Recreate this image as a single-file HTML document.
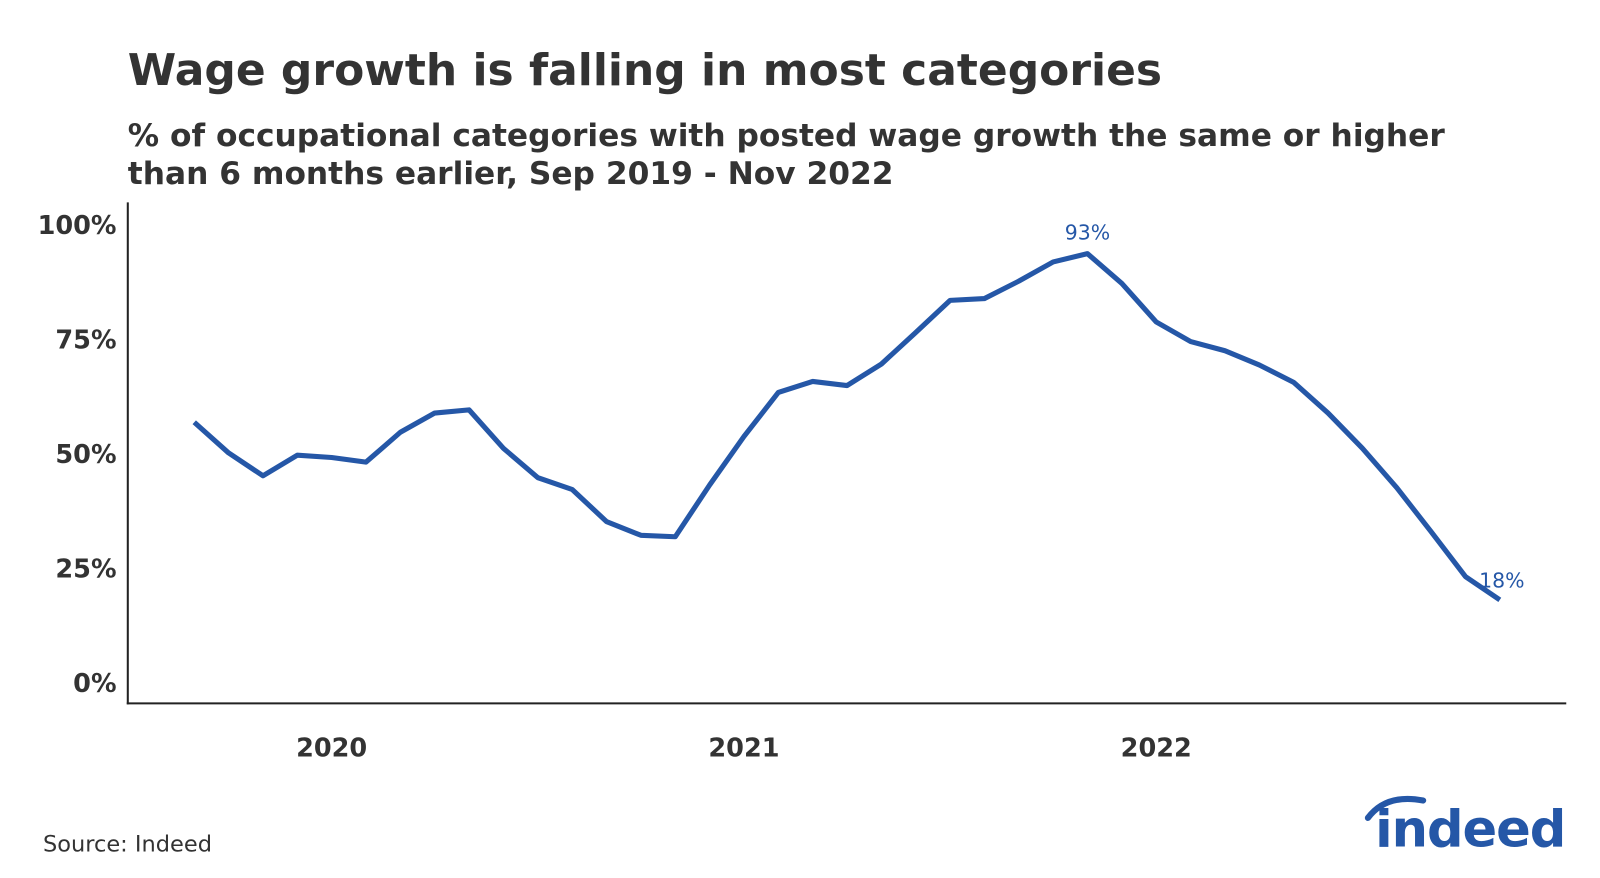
<!DOCTYPE html>
<html><head><meta charset="utf-8"><style>
body{margin:0;background:#fff;width:1600px;height:873px;overflow:hidden;font-family:"Liberation Sans","DejaVu Sans",sans-serif;}
svg text{font-family:"DejaVu Sans","Liberation Sans",sans-serif;}
</style></head><body>
<svg width="1600" height="873" viewBox="0 0 1565 853.9">
<text x="125" y="83" font-size="43" font-weight="bold" fill="#333">Wage growth is falling in most categories</text>
<text x="125" y="143" font-size="30.6" font-weight="bold" fill="#333">% of occupational categories with posted wage growth the same or higher</text>
<text x="125" y="180" font-size="30.6" font-weight="bold" fill="#333">than 6 months earlier, Sep 2019 - Nov 2022</text>
<g id="yaxis"></g>
<g id="xaxis"></g>
<line x1="125" y1="198" x2="125" y2="689" stroke="#222" stroke-width="2"/>
<line x1="124" y1="688" x2="1532" y2="688" stroke="#222" stroke-width="2"/>
<path id="line" fill="none" stroke="#2557a7" stroke-width="5" stroke-linejoin="round"/>
<g id="labels"></g>
<text x="42" y="833" font-size="22" fill="#333">Source: Indeed</text>
<g>
<path d="M1338 800 Q1356 776 1392 783" fill="none" stroke="#2557a7" stroke-width="6" stroke-linecap="round"/>
<text x="1345" y="828" font-size="50" font-weight="bold" fill="#2557a7" letter-spacing="-1">indeed</text>
</g>
</svg>
<script>
const months=["Sep19","Oct19","Nov19","Dec19","Jan20","Feb20","Mar20","Apr20","May20","Jun20","Jul20","Aug20","Sep20","Oct20","Nov20","Dec20","Jan21","Feb21","Mar21","Apr21","May21","Jun21","Jul21","Aug21","Sep21","Oct21","Nov21","Dec21","Jan22","Feb22","Mar22","Apr22","May22","Jun22","Jul22","Aug22","Sep22","Oct22","Nov22"];
const values=[56.7,50,45,49.5,49,48,54.5,58.7,59.4,51,44.6,42,35,32,31.7,43,53.6,63.2,65.6,64.7,69.4,76.3,83.3,83.7,87.5,91.7,93.5,87,78.6,74.3,72.3,69.2,65.4,58.7,51,42.4,32.8,23,17.9];
const yTicks=[0,25,50,75,100];
const yTickLabels=["0%","25%","50%","75%","100%"];
const xTickIndex=[4,16,28];
const xTickLabels=["2020","2021","2022"];
const annotIndex=[26,38];
const annotLabels=["93%","18%"];
const ns="http://www.w3.org/2000/svg";
const x=i=>190+i*(1467-190)/38;
const y=v=>667-v*4.48;
const ya=document.getElementById('yaxis'),xa=document.getElementById('xaxis'),lb=document.getElementById('labels');
yTicks.forEach((t,k)=>{const e=document.createElementNS(ns,'text');


e.setAttribute('x',114);e.setAttribute('y',y(t)+10);e.setAttribute('text-anchor','end');e.setAttribute('font-size','25');e.setAttribute('font-weight','bold');e.setAttribute('fill','#333');e.textContent=yTickLabels[k];ya.appendChild(e);});
xTickIndex.forEach((i,k)=>{const e=document.createElementNS(ns,'text');


e.setAttribute('x',x(i));e.setAttribute('y',740);e.setAttribute('text-anchor','middle');e.setAttribute('font-size','25');e.setAttribute('font-weight','bold');e.setAttribute('fill','#333');e.textContent=xTickLabels[k];xa.appendChild(e);});
document.getElementById('line').setAttribute('d',values.map((v,i)=>(i?'L':'M')+x(i).toFixed(1)+' '+y(v).toFixed(1)).join(' '));
annotIndex.forEach((i,k)=>{const e=document.createElementNS(ns,'text');


e.setAttribute('x',x(i)+(k?2:0));e.setAttribute('y',y(values[i])-(k?12:14));e.setAttribute('text-anchor','middle');e.setAttribute('font-size','20');e.setAttribute('fill','#2557a7');e.textContent=annotLabels[k];lb.appendChild(e);});
</script>
</body></html>
